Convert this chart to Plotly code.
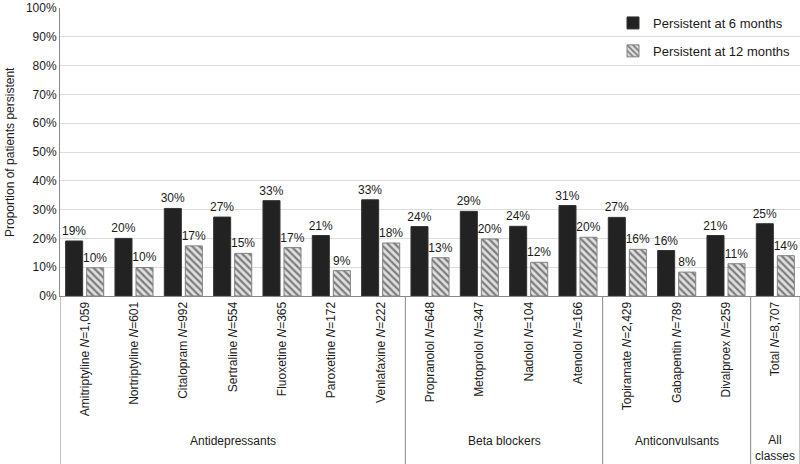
import plotly.graph_objects as go

drugs = ["Amitriptyline", "Nortriptyline", "Citalopram", "Sertraline", "Fluoxetine",
         "Paroxetine", "Venlafaxine", "Propranolol", "Metoprolol", "Nadolol", "Atenolol",
         "Topiramate", "Gabapentin", "Divalproex", "Total"]
n_values = ["1,059", "601", "992", "554", "365", "172", "222", "648", "347", "104",
            "166", "2,429", "789", "259", "8,707"]
persist_6m = [19.1, 20.0, 30.4, 27.4, 33.1, 21.0, 33.4, 24.1, 29.4, 24.2, 31.4,
              27.3, 15.8, 21.0, 25.1]
persist_12m = [9.8, 9.9, 17.4, 14.8, 16.8, 8.8, 18.4, 13.3, 19.8, 11.7, 20.4,
               16.2, 8.3, 11.2, 14.0]
groups = ["Antidepressants", "Beta blockers", "Anticonvulsants", "All<br>classes"]
group_sizes = [7, 4, 3, 1]
y_ticks = list(range(0, 101, 10))

cats = [f"{d} <i>N</i>={n}" for d, n in zip(drugs, n_values)]
FONT = "Liberation Sans, Arial, Helvetica, sans-serif"

fig = go.Figure()
fig.add_trace(go.Bar(
    x=cats, y=persist_6m, name="Persistent at 6 months",
    marker=dict(color="#222222", line=dict(color="#333333", width=1)),
    text=[f"{v:.0f}%" for v in persist_6m], textposition="outside",
    constraintext="none", cliponaxis=False,
    textfont=dict(size=12, color="#1a1a1a", family=FONT),
    legendgroup="a",
))
fig.add_trace(go.Bar(
    x=cats, y=persist_12m, name="Persistent at 12 months",
    marker=dict(color="#e0e0e0", line=dict(color="#808080", width=1),
                pattern=dict(shape="\\", fgcolor="#1a1a1a", bgcolor="#e0e0e0",
                             size=5, solidity=0.45)),
    text=[f"{v:.0f}%" for v in persist_12m], textposition="outside",
    constraintext="none", cliponaxis=False,
    textfont=dict(size=12, color="#1a1a1a", family=FONT),
    legendgroup="b",
))

PLOT_H = 288
shapes = []
annotations = []
start = 0
bottom = -168 / PLOT_H
shapes.append(dict(type="line", xref="x", yref="paper", x0=-0.5, x1=-0.5,
                   y0=0, y1=bottom, line=dict(color="#888888", width=1)))
for g, s in zip(groups, group_sizes):
    end = start + s
    annotations.append(dict(text=g, xref="x", yref="paper", x=(start + end - 1) / 2,
                            y=-(441 - 296) / PLOT_H, yanchor="middle",
                            showarrow=False,
                            font=dict(size=12, color="#1a1a1a", family=FONT)))
    shapes.append(dict(type="line", xref="x", yref="paper", x0=end - 0.5, x1=end - 0.5,
                       y0=0, y1=bottom, line=dict(color="#888888", width=1)))
    start = end
annotations[-1]["y"] = -(448 - 296) / PLOT_H

annotations.append(dict(text="Proportion of patients persistent", xref="paper", yref="paper",
                        x=-50 / 740, y=0.5, xanchor="center", yanchor="middle",
                        textangle=-90, showarrow=False,
                        font=dict(size=12, color="#1a1a1a", family=FONT)))

fig.update_layout(
    width=800, height=464,
    margin=dict(l=60, r=0, t=8, b=168, autoexpand=False),
    paper_bgcolor="white", plot_bgcolor="white",
    font=dict(family=FONT, size=12, color="#1a1a1a"),
    barmode="group", bargap=0.148, bargroupgap=0.19,
    shapes=shapes, annotations=annotations,
    legend=dict(x=(613 - 60) / 740, y=1.0, xanchor="left", yanchor="top",
                font=dict(size=13, family=FONT), tracegroupgap=8,
                bgcolor="rgba(0,0,0,0)"),
    showlegend=True,
)
fig.update_yaxes(range=[0, 100], tickmode="array", tickvals=y_ticks,
                 ticktext=[f"{t}%" for t in y_ticks], automargin=False,
                 showgrid=True, gridcolor="#dcdcdc", gridwidth=1,
                 showline=True, linecolor="#888888", linewidth=1,
                 zeroline=False, ticks="", tickfont=dict(size=12))
fig.update_xaxes(tickangle=-90, showline=True, linecolor="#888888", linewidth=1,
                 ticks="", tickfont=dict(size=12), showgrid=False, automargin=False,
                 range=[-0.5, len(cats) - 0.5])

fig.write_html("out.html", config={"displayModeBar": False},
               post_script="document.body.style.margin='0';document.body.style.padding='0';")
